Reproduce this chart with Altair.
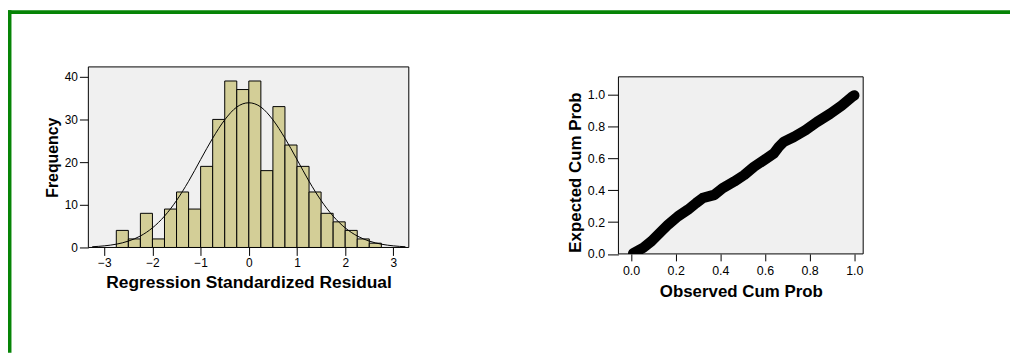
import altair as alt
import pandas as pd

# ---------------- data ----------------
# Histogram of regression standardized residuals (bin width 0.25)
bin_start = [-2.75, -2.5, -2.25, -2.0, -1.75, -1.5, -1.25, -1.0, -0.75, -0.5, -0.25,
             0.0, 0.25, 0.5, 0.75, 1.0, 1.25, 1.5, 1.75, 2.0, 2.25, 2.5]
counts = [4, 2, 8, 2, 9, 13, 9, 19, 30, 39, 37,
          39, 18, 33, 24, 19, 13, 8, 6, 4, 2, 1]
BIN_W = 0.25

# Normal curve overlay (frequency scale)
curve_x = [-3.25, -3.0, -2.75, -2.5, -2.25, -2.0, -1.75, -1.5, -1.25, -1.0, -0.75, -0.5, -0.25,
           0.0, 0.25, 0.5, 0.75, 1.0, 1.25, 1.5, 1.75, 2.0, 2.25, 2.5, 2.75, 3.0, 3.25]
curve_y = [0.17, 0.38, 0.77, 1.49, 2.69, 4.59, 7.34, 11.0, 15.5, 20.6, 25.6, 29.9, 32.9,
           33.9, 32.9, 29.9, 25.6, 20.6, 15.5, 11.0, 7.34, 4.59, 2.69, 1.49, 0.77, 0.38, 0.17]
hist_ticks_x = [-3, -2, -1, 0, 1, 2, 3]
hist_ticks_y = [0, 10, 20, 30, 40]

# Normal P-P plot
pp_observed = [0.01, 0.055, 0.092, 0.129, 0.166, 0.210, 0.255, 0.292, 0.321, 0.373, 0.410,
               0.462, 0.507, 0.551, 0.596, 0.640, 0.662, 0.684, 0.729, 0.781, 0.833, 0.892,
               0.944, 0.988, 1.0]
pp_expected = [0.004, 0.039, 0.080, 0.132, 0.184, 0.236, 0.278, 0.320, 0.351, 0.371, 0.413,
               0.455, 0.496, 0.548, 0.590, 0.632, 0.673, 0.704, 0.735, 0.777, 0.829, 0.881,
               0.933, 0.985, 0.996]
pp_ticks = [0.0, 0.2, 0.4, 0.6, 0.8, 1.0]

# ---------------- styling ----------------
FONT = "Liberation Sans"
GREEN = "#068406"
BAR_FILL = "#d3ce97"
PANEL_BG = "#f0f0f0"

HX = [-3.33, 3.32]
HY = [0, 42.3]
W1, H1 = 323, 182

PX = [-0.0564, 1.04]
PY = [0, 1.113]
W2, H2 = 246.7, 188.5
PY_RANGE = [188.5, 10]

hist_df = pd.DataFrame({"start": bin_start, "count": counts})
hist_df["end"] = hist_df["start"] + BIN_W
hist_df["base"] = 0
curve_df = pd.DataFrame({"x": curve_x, "y": curve_y})
hframe = pd.DataFrame({"x0": [HX[0]], "x1": [HX[1]], "y0": [HY[0]], "y1": [HY[1]]})
pp_df = pd.DataFrame({"obs": pp_observed, "exp": pp_expected})
pframe = pd.DataFrame({"x0": [PX[0]], "x1": [PX[1]], "y0": [PY[0]], "y1": [PY[1]]})
one = pd.DataFrame({"a": [0]})

hx_scale = alt.Scale(domain=HX, nice=False, zero=False)
hy_scale = alt.Scale(domain=HY, nice=False, zero=False)
hx_axis = alt.Axis(values=hist_ticks_x, tickSize=8, labelPadding=2, titlePadding=5,
                   titleFontSize=17.5)
hy_axis = alt.Axis(values=hist_ticks_y, tickSize=9, labelPadding=2, titlePadding=3.5,
                   titleFontSize=16)
HXT = "Regression Standardized Residual"
HYT = "Frequency"


def hx(field):
    return alt.X(field, type="quantitative", scale=hx_scale, axis=hx_axis, title=HXT)


def hy(field):
    return alt.Y(field, type="quantitative", scale=hy_scale, axis=hy_axis, title=HYT)


h_frame = alt.Chart(hframe).mark_rect(fill=PANEL_BG, stroke="black", strokeWidth=1).encode(
    x=hx("x0"), x2="x1", y=hy("y0"), y2="y1")
h_bars = alt.Chart(hist_df).mark_rect(fill=BAR_FILL, stroke="black", strokeWidth=1).encode(
    x=hx("start"), x2="end", y=hy("count"), y2="base")
h_curve = alt.Chart(curve_df).mark_line(color="black", strokeWidth=1, interpolate="monotone").encode(
    x=hx("x"), y=hy("y"))
# green page border (decoration)
b_top = alt.Chart(one).mark_rect(color=GREEN).encode(
    x=alt.value(-81), x2=alt.value(1010 - 81), y=alt.value(-57), y2=alt.value(-53.3))
b_left = alt.Chart(one).mark_rect(color=GREEN).encode(
    x=alt.value(-81), x2=alt.value(-77.5), y=alt.value(-57), y2=alt.value(288))

hist = alt.layer(b_top, b_left, h_frame, h_bars, h_curve).properties(width=W1, height=H1)

px_scale = alt.Scale(domain=PX, nice=False, zero=False)
py_scale = alt.Scale(domain=PY, range=PY_RANGE, nice=False, zero=False)
px_axis = alt.Axis(values=pp_ticks, format=".1f", tickSize=7, labelPadding=4, titlePadding=6,
                   labelFontSize=12.5, titleFontSize=17)
py_axis = alt.Axis(values=pp_ticks, format=".1f", tickSize=11, labelPadding=3, titlePadding=3,
                   titleY=106, labelFontSize=12.5, titleFontSize=17)
PXT = "Observed Cum Prob"
PYT = "Expected Cum Prob"


def px(field):
    return alt.X(field, type="quantitative", scale=px_scale, axis=px_axis, title=PXT)


def py(field):
    return alt.Y(field, type="quantitative", scale=py_scale, axis=py_axis, title=PYT)


p_frame = alt.Chart(pframe).mark_rect(fill=PANEL_BG, stroke="black", strokeWidth=1).encode(
    x=px("x0"), x2="x1", y=py("y0"), y2="y1")
p_band = alt.Chart(pp_df).mark_line(color="black", strokeWidth=10.5, strokeCap="round",
                                    strokeJoin="round", clip=True).encode(
    x=px("obs"), y=py("exp"), order="obs:Q")

pp = alt.layer(p_frame, p_band).properties(width=W2, height=H2)

chart = alt.hconcat(hist, pp, spacing=534.3 - W1, bounds="flush").properties(
    padding={"left": 0, "top": 1, "right": 0, "bottom": 0}
).configure_view(stroke=None).configure_axis(
    labelFont=FONT, titleFont=FONT, labelFontSize=12, titleFontSize=16,
    titleFontWeight="bold", labelColor="black", titleColor="black",
    tickColor="black", tickWidth=1, domain=False, grid=False
)

chart.save("out.html", embed_options={"renderer": "svg", "actions": False})
